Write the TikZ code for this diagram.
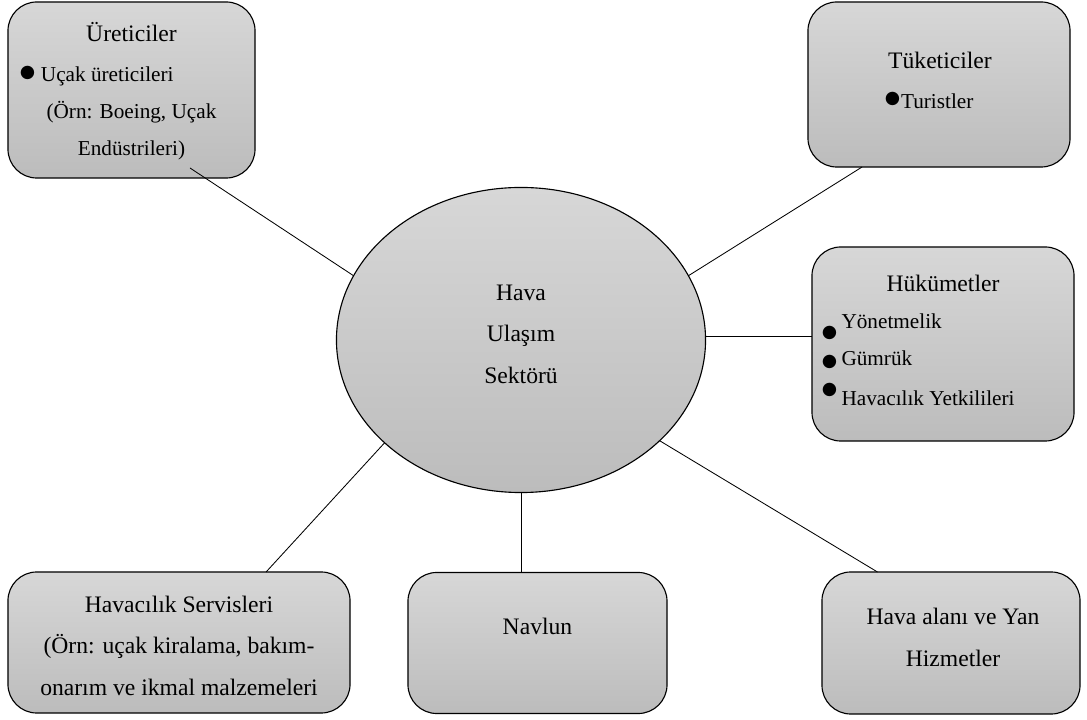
\documentclass[tikz,border=0pt]{standalone}
\usepackage{fontspec}
\setmainfont{Liberation Serif}
\newfontfamily\symfont{DejaVu Sans}
\usetikzlibrary{shapes.geometric, positioning}
\definecolor{boxtop}{HTML}{D7D7D7}
\definecolor{boxbottom}{HTML}{BCBCBC}
\newcommand{\itemfont}{\fontsize{15.1}{26.3}\selectfont}
\newcommand{\blt}[1]{\raisebox{#1}{\symfont\fontsize{12.5}{12.5}\selectfont ●}}

\begin{document}
\begin{tikzpicture}[
  x=0.025cm, y=-0.025cm,
  every node/.style={inner sep=0pt, outer sep=0pt},
  actor/.style={draw, line width=0.8pt, rounded corners=0.72cm, top color=boxtop, bottom color=boxbottom},
  hubnode/.style={ellipse, draw, line width=0.8pt, top color=boxtop, bottom color=boxbottom},
  lbl/.style={align=center, font=\fontsize{16.8}{#1}\selectfont},
  lbl/.default=29.5pt,
  link/.style={draw, line width=0.6pt}
]
\useasboundingbox (0,0) rectangle (1087,720);

\node[hubnode, minimum width=9.225cm, minimum height=7.625cm] (sektor) at (521,340) {};
\node[actor, minimum width=6.175cm, minimum height=4.4cm] (ureticiler) at (131.5,90) {};
\node[actor, minimum width=6.55cm, minimum height=4.125cm] (tuketiciler) at (939,84.5) {};
\node[actor, minimum width=6.55cm, minimum height=4.85cm] (hukumet) at (943,344) {};
\node[actor, minimum width=8.55cm, minimum height=3.525cm] (servis) at (179,642.5) {};
\node[actor, minimum width=6.475cm, minimum height=3.525cm] (navlun) at (537.5,643) {};
\node[actor, minimum width=6.45cm, minimum height=3.55cm] (havaalani) at (951,643) {};

\node[lbl, anchor=north] (sektor-txt) at (521,285) {Hava\\Ulaşım\\Sektörü};
\node[lbl=26.3pt, anchor=north] (ureticiler-txt) at (131.5,22)
  {Üreticiler\\[2.1pt]
   \makebox[5.575cm][l]{\itemfont\blt{2.5pt}\hspace{4pt}Uçak üreticileri}\\
   {\itemfont (Örn: Boeing, Uçak}\\
   {\itemfont Endüstrileri)}};
\node[lbl=28.4pt, anchor=north] (tuketiciler-txt) at (940,52)
  {Tüketiciler\\
   \makebox[2.75cm][l]{\itemfont\blt{3.2pt}\hspace{0.5pt}Turistler}};
\node[lbl=26.3pt, anchor=north] (hukumet-txt) at (943,275)
  {Hükümetler\\
   \makebox[6.05cm][l]{\itemfont\blt{-6.4pt}\hspace{3pt}Yönetmelik}\\
   \makebox[6.05cm][l]{\itemfont\blt{-0.7pt}\hspace{3pt}Gümrük}\\[2pt]
   \makebox[6.05cm][l]{\itemfont\blt{7.5pt}\hspace{3pt}Havacılık Yetkilileri}};
\node[lbl, anchor=north] (servis-txt) at (179,596)
  {Havacılık Servisleri\\(Örn: uçak kiralama, bakım-\\onarım ve ikmal malzemeleri};
\node[lbl, anchor=north] (navlun-txt) at (537.5,618) {Navlun};
\node[lbl=29.9pt, anchor=north] (havaalani-txt) at (953,608) {Hava alanı ve Yan\\Hizmetler};

\coordinate (ureticiler-end) at (190,168);
\draw[link] (sektor.159.4) -- (ureticiler-end);
\draw[link] (sektor.21.6) -- (tuketiciler.-133.8);
\draw[link] (sektor.1.7) -- (sektor.1.7 -| hukumet.west);
\draw[link] (sektor.-143.7) -- (servis.39.3);
\draw[link] (sektor.south) -- (sektor.south |- navlun.north);
\draw[link] (sektor.-36.7) -- (havaalani.136.9);
\end{tikzpicture}
\end{document}
